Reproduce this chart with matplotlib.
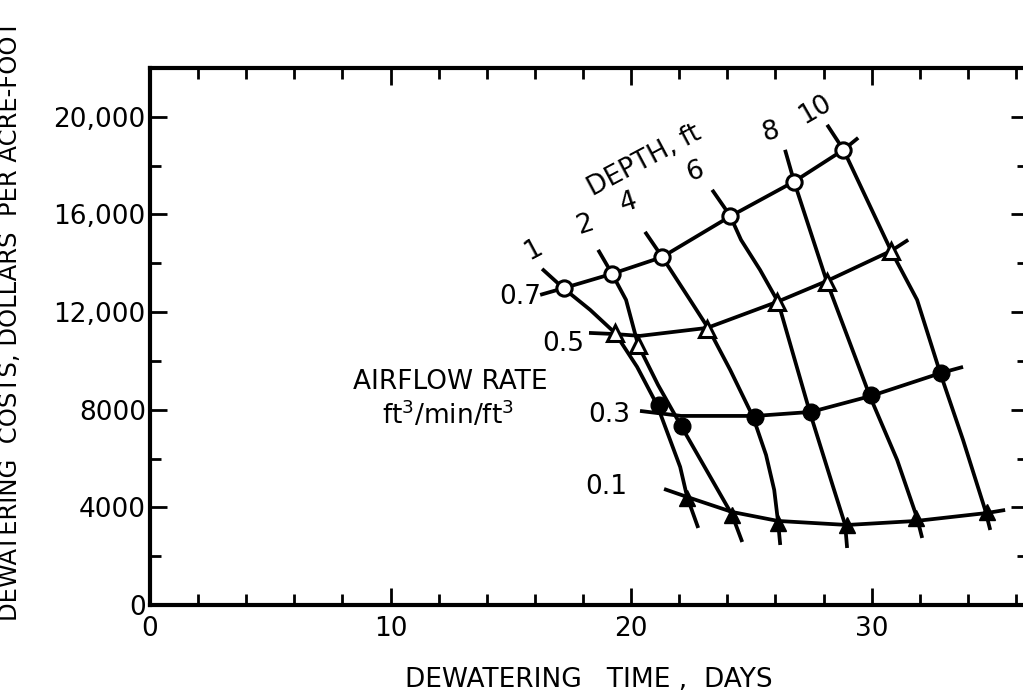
import matplotlib
matplotlib.use("Agg")
import matplotlib.pyplot as plt
from matplotlib.ticker import MultipleLocator, FixedLocator, FixedFormatter

# ---------------- data ----------------
# Measured points, airflow-rate rows (days, $/acre-ft)
rate07_days = [17.19, 19.20, 21.28, 24.12, 26.78, 28.83]
rate07_cost = [12980, 13566, 14250, 15922, 17348, 18648]
rate05_days = [19.33, 20.30, 23.15, 26.06, 28.14, 30.82]
rate05_cost = [11135, 10656, 11299, 12430, 13250, 14496]
rate03_days = [21.14, 22.11, 25.16, 27.47, 29.97, 32.88]
rate03_cost = [8197, 7336, 7717, 7898, 8607, 9496]
rate01_days = [22.32, 24.19, 26.12, 28.97, 31.85, 34.79]
rate01_cost = [4373, 3689, 3348, 3279, 3553, 3824]

# Fitted airflow curves
curve07_days = [16.22, 17.19, 19.20, 21.28, 24.12, 26.78, 28.83, 29.44]
curve07_cost = [12705, 12980, 13566, 14250, 15922, 17348, 18648, 19139]
curve05_days = [18.25, 19.33, 20.37, 23.16, 26.07, 28.15, 30.81, 31.52]
curve05_cost = [11148, 11100, 11025, 11352, 12418, 13279, 14508, 14959]
curve03_days = [20.37, 22.08, 25.16, 27.48, 29.98, 32.89, 33.80]
curve03_cost = [7951, 7746, 7746, 7910, 8566, 9508, 9754]
curve01_days = [21.37, 22.33, 24.20, 26.11, 28.98, 31.85, 34.80, 35.55]
curve01_cost = [4754, 4426, 3811, 3443, 3279, 3443, 3770, 3893]

# Depth curves (ft of depth: 1, 2, 4, 6, 8, 10)
depth1_days = [16.30, 17.17, 18.30, 19.33, 20.25, 21.08, 22.04, 22.33, 22.79]
depth1_cost = [13770, 12992, 12090, 11148, 9754, 8197, 5656, 4426, 3156]
depth2_days = [18.63, 19.21, 19.79, 20.29, 21.12, 22.08, 24.20, 24.62]
depth2_cost = [14549, 13566, 12500, 10656, 9016, 7336, 3689, 2582]
depth4_days = [20.58, 21.29, 22.45, 23.20, 24.12, 25.07, 25.61, 25.95, 26.11, 26.20]
depth4_cost = [15287, 14262, 12500, 11352, 9631, 7705, 6147, 4713, 3401, 2459]
depth6_days = [23.37, 24.12, 24.57, 25.36, 26.11, 27.44, 28.40, 28.90, 28.98]
depth6_cost = [17008, 15942, 14959, 13730, 12418, 7869, 4836, 3279, 2336]
depth8_days = [26.40, 26.78, 28.14, 29.94, 31.06, 31.89, 32.10]
depth8_cost = [18648, 17336, 13238, 8525, 5943, 3566, 2746]
depth10_days = [28.15, 28.83, 30.81, 31.89, 32.85, 33.80, 34.72, 34.93]
depth10_cost = [19672, 18648, 14508, 12500, 9508, 6762, 3893, 3074]

x_major = [0, 10, 20, 30]
x_labels = ["0", "10", "20", "30"]
y_major = [0, 4000, 8000, 12000, 16000, 20000]
y_labels = ["0", "4000", "8000", "12,000", "16,000", "20,000"]

# ---------------- drawing ----------------
plt.rcParams['font.family'] = ['DejaVu Sans']
fig = plt.figure(figsize=(10.23, 6.99), dpi=100)
ax = fig.add_axes([150/1023, 94/699, 878/1023, 537/699])
ax.set_xlim(0, 36.5)
ax.set_ylim(0, 22000)

LW = 2.7
for xs, ys in [(curve07_days, curve07_cost), (curve05_days, curve05_cost),
               (curve03_days, curve03_cost), (curve01_days, curve01_cost),
               (depth1_days, depth1_cost), (depth2_days, depth2_cost),
               (depth4_days, depth4_cost), (depth6_days, depth6_cost),
               (depth8_days, depth8_cost), (depth10_days, depth10_cost)]:
    ax.plot(xs, ys, color="black", lw=LW, solid_capstyle="butt",
            solid_joinstyle="round", zorder=2)

ax.plot(rate07_days, rate07_cost, ls="none", marker="o", ms=11, mfc="white",
        mec="black", mew=2.2, zorder=3)
ax.plot(rate05_days, rate05_cost, ls="none", marker="^", ms=12, mfc="white",
        mec="black", mew=2.2, zorder=3)
ax.plot(rate03_days, rate03_cost, ls="none", marker="o", ms=12, mfc="black",
        mec="black", zorder=3)
ax.plot(rate01_days, rate01_cost, ls="none", marker="^", ms=12, mfc="black",
        mec="black", zorder=3)

# axes styling
for s in ax.spines.values():
    s.set_linewidth(3)
ax.xaxis.set_major_locator(FixedLocator(x_major))
ax.xaxis.set_major_formatter(FixedFormatter(x_labels))
ax.xaxis.set_minor_locator(MultipleLocator(2))
ax.yaxis.set_major_locator(FixedLocator(y_major))
ax.yaxis.set_major_formatter(FixedFormatter(y_labels))
ax.yaxis.set_minor_locator(MultipleLocator(2000))
ax.tick_params(which="both", direction="in", top=True, right=True, width=2,
               labelsize=19)
ax.tick_params(which="major", length=12)
ax.tick_params(axis="x", which="major", pad=8)
ax.tick_params(axis="y", which="major", pad=3)
ax.tick_params(which="minor", length=8)

ax.set_xlabel("DEWATERING   TIME ,  DAYS", fontsize=19, labelpad=18)
ax.set_ylabel("DEWATERING  COSTS, DOLLARS  PER ACRE-FOOT", fontsize=17.5)
ax.yaxis.set_label_coords(-128/878, 0.53)

fs = 19
ax.text(20.54, 18197, "DEPTH, ft", fontsize=fs, rotation=28, ha="center", va="center")
ax.text(15.93, 14549, "1", fontsize=fs, rotation=28, ha="center", va="center")
ax.text(18.09, 15574, "2", fontsize=fs, rotation=18, ha="center", va="center")
ax.text(19.88, 16475, "4", fontsize=fs, rotation=18, ha="center", va="center")
ax.text(22.66, 17746, "6", fontsize=fs, rotation=18, ha="center", va="center")
ax.text(25.78, 19385, "8", fontsize=fs, rotation=15, ha="center", va="center")
ax.text(27.65, 20287, "10", fontsize=fs, rotation=30, ha="center", va="center")
ax.text(15.40, 12623, "0.7", fontsize=fs, ha="center", va="center")
ax.text(17.20, 10697, "0.5", fontsize=fs, ha="center", va="center")
ax.text(19.10, 7787, "0.3", fontsize=fs, ha="center", va="center")
ax.text(18.95, 4836, "0.1", fontsize=fs, ha="center", va="center")
ax.text(12.47, 9139, "AIRFLOW RATE", fontsize=fs, ha="center", va="center")
ax.text(12.39, 7787, "ft$^3$/min/ft$^3$", fontsize=fs, ha="center", va="center")

fig.savefig("out.png", dpi=100)
